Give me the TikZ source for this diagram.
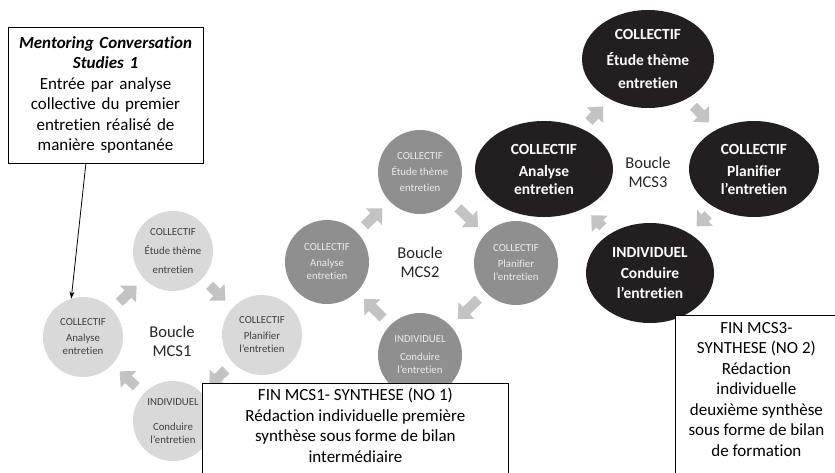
\documentclass[tikz,border=0pt]{standalone}
\usepackage{fontspec}
\setmainfont{Carlito}[Ligatures=NoCommon]
\usepackage{xcolor}
\usetikzlibrary{shapes.geometric,arrows.meta,calc,positioning}
\definecolor{loopone}{HTML}{D9D9D9}
\definecolor{looptwo}{HTML}{8F8F8F}
\definecolor{loopthree}{HTML}{231F20}
\definecolor{arrowgray}{HTML}{C3C3C3}
\definecolor{textgray}{HTML}{404040}

\begin{document}
\begin{tikzpicture}[x=1pt, y=-1pt,
    mcsone/.style={circle, fill=loopone, minimum size=80pt, inner sep=0pt, text=textgray, align=center, font=\fontsize{10.8}{13}\selectfont},
    mcstwo/.style={circle, fill=looptwo, minimum size=84pt, inner sep=0pt, text=white!92!black, align=center, font=\fontsize{10.8}{13}\selectfont},
    mcsthree/.style={ellipse, fill=loopthree, inner sep=0pt, text=white, align=center, font=\fontsize{15.5}{18}\selectfont\bfseries},
    boucle/.style={align=center, text=black!85, font=\fontsize{16.5}{19}\selectfont},
    flow/.style={draw=arrowgray, line width=10pt, shorten <=10pt, shorten >=10pt, -{Triangle[width=22pt,length=12pt]}},
    boxtext/.style={align=center, inner sep=0pt, font=\fontsize{17}{20.5}\selectfont},
    frame/.style={draw, fill=white, line width=0.8pt, anchor=north west}]
      \useasboundingbox (0,0) rectangle (835,472);

      \node[mcsone] (t1) at (173,251) {COLLECTIF\\[6pt]Étude thème\\[6pt]entretien};
      \node[mcsone] (l1) at (83,337) {COLLECTIF\\[3pt]Analyse\\entretien};
      \node[mcsone] (r1) at (262,335) {COLLECTIF\\[3pt]Planifier\\l’entretien};
      \node[mcsone] (b1) at (173,421) {INDIVIDUEL\\[12pt]Conduire\\l’entretien};
      \node[boucle] (c1) at (172,341) {Boucle\\MCS1};

      \node[mcstwo] (t2) at (420,172) {COLLECTIF\\[3pt]Étude thème\\[3pt]entretien};
      \node[mcstwo] (l2) at (327,262) {COLLECTIF\\[3pt]Analyse\\entretien};
      \node[mcstwo] (r2) at (516,263) {COLLECTIF\\[3pt]Planifier\\l’entretien};
      \node[mcstwo] (b2) at (420,355) {INDIVIDUEL\\[5pt]Conduire\\l’entretien};
      \node[boucle] (c2) at (420,262) {Boucle\\MCS2};

      \node[mcsthree, minimum width=132pt, minimum height=98pt] (t3) at (648,59) {COLLECTIF\\[8pt]Étude thème\\[5pt]entretien};
      \node[mcsthree, minimum width=138pt, minimum height=96pt] (l3) at (544,169) {COLLECTIF\\[4pt]Analyse\\entretien};
      \node[mcsthree, minimum width=130pt, minimum height=96pt] (r3) at (754,169) {COLLECTIF\\[4pt]Planifier\\l’entretien};
      \node[mcsthree, minimum width=128pt, minimum height=100pt] (b3) at (650,273) {INDIVIDUEL\\[3pt]Conduire\\[2pt]l’entretien};
      \node[boucle] (c3) at (648,172) {Boucle\\MCS3};

      \foreach \n in {1,2,3} {
        \draw[flow] (l\n) -- (t\n);
        \draw[flow] (t\n) -- (r\n);
        \draw[flow] (r\n) -- (b\n);
        \draw[flow] (b\n) -- (l\n);
      }

      \node[draw, fill=white, line width=0.8pt, boxtext, minimum width=195pt, minimum height=136pt, text width=190pt] (intro) at (105.5,95)
        {\textbf{\textit{Mentoring Conversation}}\\\textbf{\textit{Studies 1}}\\Entrée par analyse\\collective du premier\\entretien réalisé de\\manière spontanée};
      \draw[line width=0.8pt, -{Stealth[length=7pt,width=5pt]}] ($(intro.south west)!0.4!(intro.south east)$) -- (l1.107);

      \node[frame, minimum width=306pt, minimum height=100pt] (fin1) at (202,383) {};
      \node[boxtext, below=5pt of fin1.north] (fin1text) {FIN MCS1- SYNTHESE (NO 1)\\Rédaction individuelle première\\synthèse sous forme de bilan\\intermédiaire};

      \node[frame, minimum width=162pt, minimum height=170pt] (fin3) at (675,315) {};
      \node[boxtext, below=7pt of fin3.north] (fin3text) {FIN MCS3-\\SYNTHESE (NO 2)\\Rédaction\\individuelle\\deuxième synthèse\\sous forme de bilan\\de formation};
\end{tikzpicture}
\end{document}
